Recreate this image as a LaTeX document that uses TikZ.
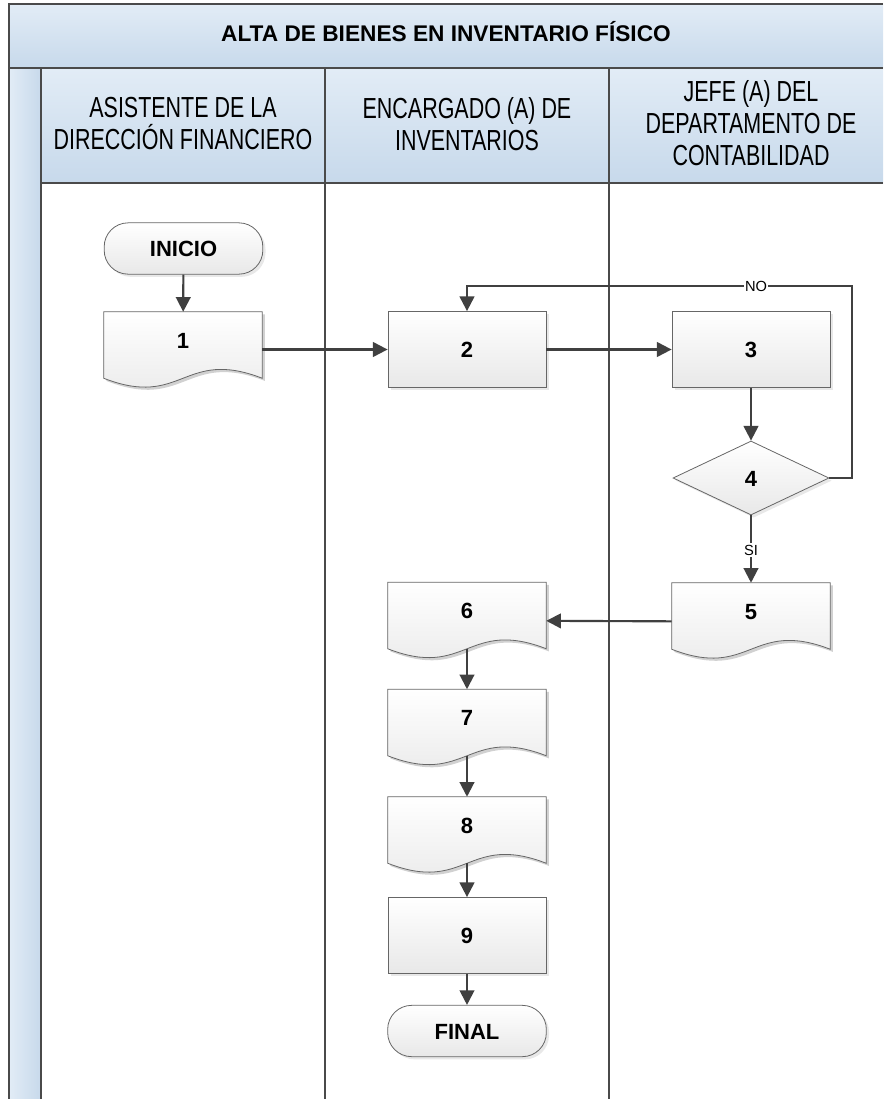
\documentclass[tikz,border=0pt]{standalone}
\usepackage{fontspec}
\setmainfont{Liberation Sans}
\newfontfamily\headfont[FakeStretch=0.74]{Liberation Sans}
\usetikzlibrary{positioning, arrows.meta, shapes.geometric, shadows, backgrounds}

\definecolor{linegray}{HTML}{404040}
\definecolor{lanegray}{HTML}{4A4A4A}
\definecolor{boxline}{HTML}{666666}
\definecolor{boxgray}{HTML}{E8E8E8}
\definecolor{headtop}{HTML}{E2ECF6}
\definecolor{headbot}{HTML}{C7D9EB}

\tikzset{
  lane/.style={draw=lanegray, line width=1.2pt},
  lanehead/.style={font=\headfont\fontsize{21.75pt}{24pt}\selectfont, align=center},
  boxbase/.style={draw=boxline, line width=0.6pt, top color=white, bottom color=boxgray,
    font=\bfseries\fontsize{16.5pt}{20pt}\selectfont, text height=12pt, inner sep=0pt,
    drop shadow={opacity=0.18, shadow xshift=2pt, shadow yshift=-2pt}},
  procbox/.style={boxbase, rectangle, minimum width=118.5pt, minimum height=57pt, text depth=0pt},
  termbox/.style={boxbase, rectangle, rounded corners=18pt, minimum width=119pt, minimum height=38.5pt, text depth=0pt},
  decbox/.style={boxbase, diamond, minimum width=117pt, minimum height=55.5pt, text depth=0pt},
  docbox/.style={rectangle, minimum width=118.5pt, minimum height=49.5pt, inner sep=0pt,
    font=\bfseries\fontsize{16.5pt}{20pt}\selectfont, text height=12pt, text depth=7.5pt},
  flow/.style={draw=linegray, line width=1.6pt, -{Triangle[length=11pt,width=11pt]}},
  tag/.style={fill=white, inner sep=1pt, font=\fontsize{11pt}{12pt}\selectfont}
}

\begin{document}
\begin{tikzpicture}[x=0.75pt, y=-0.75pt]
    \useasboundingbox (0,0) rectangle (883,1099);

    % Pool and lanes
    \shade[top color=headtop, bottom color=headbot] (9,4) rectangle (883,68);
    \shade[top color=headtop, bottom color=headbot] (41,68) rectangle (883,183);
    \shade[left color=headtop, right color=headbot] (9,68) rectangle (41,1099);
    \draw[lane] (9,1099) -- (9,4) -- (883,4);
    \draw[lane] (9,68) -- (883,68);
    \draw[lane] (41,183) -- (883,183);
    \foreach \x in {41,325,609}
        \draw[lane] (\x,68) -- (\x,1099);

    % Titles
    \node[font=\bfseries\fontsize{17pt}{20pt}\selectfont, text height=12pt, text depth=0pt] (title) at (446,34) {ALTA DE BIENES EN INVENTARIO FÍSICO};
    \node[lanehead] (asis) at (183,124) {ASISTENTE DE LA\\DIRECCIÓN FINANCIERO};
    \node[lanehead] (enc) at (467,124) {ENCARGADO (A) DE\\INVENTARIOS};
    \node[lanehead] (jefe) at (751,123) {JEFE (A) DEL\\DEPARTAMENTO DE\\CONTABILIDAD};

    % Steps
    \node[termbox] (ini) at (183.5,248.5) {INICIO};
    \node[docbox] (d1) at (183,345) {1};
    \node[procbox] (p2) at (467,349.5) {2};
    \node[procbox] (p3) at (751,349.5) {3};
    \node[decbox] (d4) at (751,478) {4};
    \node[docbox] (d5) at (751,616) {5};
    \node[docbox] (d6) at (467,615.5) {6};
    \node[docbox] (d7) at (467,722.5) {7};
    \node[docbox] (d8) at (467,830) {8};
    \node[procbox] (p9) at (467,935.5) {9};
    \node[termbox] (fin) at (467,1031) {FINAL};

    % Document outlines (wavy bottom)
    \begin{scope}[on background layer]
        \foreach \n in {d1,d5,d6,d7,d8} {
            \fill[black, opacity=0.18, transform canvas={shift={(2pt,-2pt)}}]
                (\n.north west) -- (\n.north east) -- (\n.south east)
                .. controls ([xshift=-59.25pt,yshift=23pt]\n.south east) and ([xshift=59.25pt,yshift=-23pt]\n.south west) ..
                (\n.south west) -- cycle;
            \path[draw=boxline, line width=0.6pt, top color=white, bottom color=boxgray]
                (\n.north west) -- (\n.north east) -- (\n.south east)
                .. controls ([xshift=-59.25pt,yshift=23pt]\n.south east) and ([xshift=59.25pt,yshift=-23pt]\n.south west) ..
                (\n.south west) -- cycle;
        }
    \end{scope}

    % Connectors
    \coordinate (back) at (852,286);
    \draw[flow] (ini) -- (d1);
    \draw[flow] (p2.west -| d1.east) -- (p2.west);
    \draw[flow] (p2) -- (p3);
    \draw[flow] (p3) -- (d4);
    \draw[flow] (d4.east) -| (back) -| (p2.north);
    \node[tag] (no) at (756,286) {NO};
    \draw[flow] (d4) -- (d5);
    \node[tag] (si) at (751,550) {SI};
    \draw[flow] ([yshift=-4pt]d5.west) -- ([yshift=-4pt]d6.east);
    \draw[flow] (d6) -- (d7);
    \draw[flow] (d7) -- (d8);
    \draw[flow] (d8) -- (p9);
    \draw[flow] (p9) -- (fin);
\end{tikzpicture}
\end{document}
